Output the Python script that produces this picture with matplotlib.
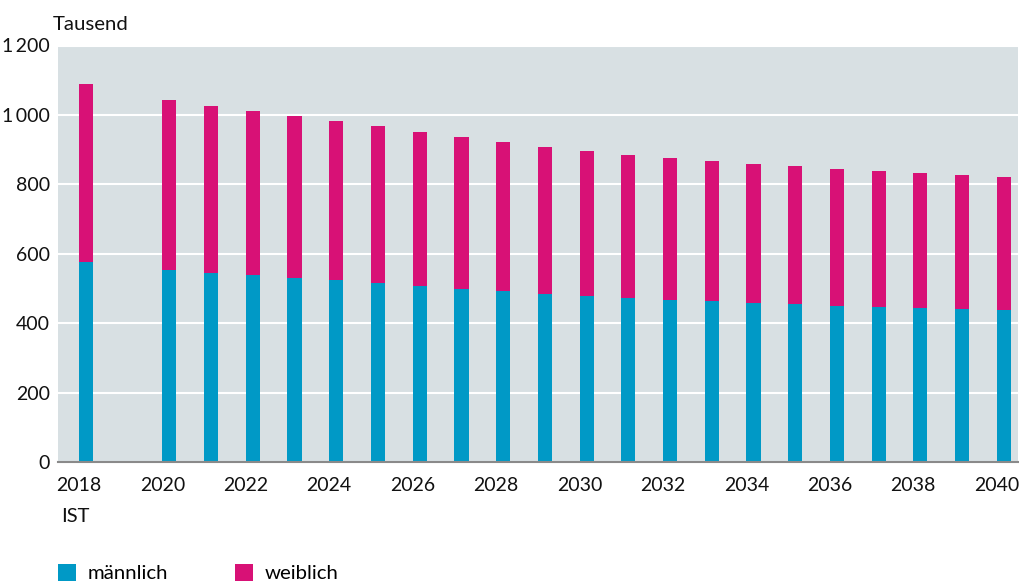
import numpy as np
import matplotlib
matplotlib.use("Agg")
import matplotlib.pyplot as plt

plt.rcParams["font.family"] = ["Lato", "DejaVu Sans"]

years = [2018] + list(range(2020, 2041))
maennlich = [576, 553, 544, 538, 529, 524, 515, 507, 498, 492, 484, 478,
             473, 467, 463, 457, 455, 449, 446, 443, 440, 437]
gesamt = [1088, 1042, 1025, 1010, 996, 982, 967, 950, 936, 921, 907, 895,
          884, 875, 867, 858, 852, 843, 837, 832, 826, 820]
weiblich = [g - m for g, m in zip(gesamt, maennlich)]
tick_years = list(range(2018, 2041, 2))
tick_labels = [str(y) for y in tick_years]

blue = "#0099c6"
pink = "#d81176"
bg = "#d8e0e3"
txt = "#111111"

fig = plt.figure(figsize=(10.2, 5.83), dpi=100)
ax = fig.add_axes([58/1020, 121/583, 960/1020, 416.5/583])
ax.set_facecolor(bg)

x = np.array(years)
w = 0.34
b1 = ax.bar(x, maennlich, width=w, color=blue, label="männlich", zorder=3)
b2 = ax.bar(x, weiblich, width=w, bottom=maennlich, color=pink, label="weiblich", zorder=3)

ax.set_xlim(2017.33, 2040.34)
ax.set_ylim(0, 1200)
ax.set_yticks(range(0, 1201, 200))
ax.set_yticklabels(["0", "200", "400", "600", "800", "1\u2009000", "1\u2009200"])
ax.grid(axis="y", color="white", linewidth=1.5, zorder=1)
ax.set_axisbelow(True)

ax.set_xticks(np.array(tick_years) - 0.17)
ax.set_xticklabels(tick_labels)
ax.tick_params(axis="both", length=0, labelsize=14, colors=txt)
ax.tick_params(axis="x", pad=11)
ax.tick_params(axis="y", pad=6)

for s in ["top", "right", "left"]:
    ax.spines[s].set_visible(False)
ax.spines["bottom"].set_color("#8a8a8a")
ax.spines["bottom"].set_linewidth(1.5)
ax.spines["bottom"].set_zorder(4)

fig.text(53/1020, 1 - 24/583, "Tausend", fontsize=14.7, va="center", ha="left", color=txt)
fig.text(75/1020, 1 - 517/583, "IST", fontsize=14.5, va="center", ha="center", color=txt)

fig.legend(handles=[b1, b2], loc="upper left", bbox_to_anchor=(58/1020, 1 - 564/583),
           ncol=2, frameon=False, fontsize=14.7, handlelength=0.88, handleheight=0.88,
           handletextpad=0.55, columnspacing=3.3, borderpad=0, borderaxespad=0)

fig.savefig("out.png", dpi=100)
